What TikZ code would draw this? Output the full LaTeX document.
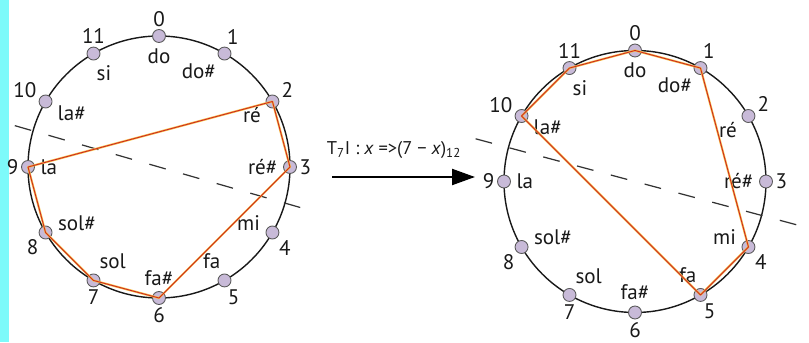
\documentclass[tikz,border=0pt]{standalone}
\usepackage{fontspec}
\setmainfont{PT Sans}
\usetikzlibrary{arrows.meta,calc,positioning}
\definecolor{scancyan}{RGB}{125,250,250}
\definecolor{pclilac}{RGB}{200,186,216}
\definecolor{hexorange}{RGB}{245,190,70}
\definecolor{hexred}{RGB}{205,40,35}

\begin{document}
\begin{tikzpicture}[x=0.02cm,y=0.02cm,
        pc/.style={circle, draw=black!65, fill=pclilac, line width=0.5pt, minimum size=0.26cm, inner sep=0pt},
        numlbl/.style={font=\fontsize{12}{14}\selectfont, text=black!90, inner sep=0.5pt, label distance=0.8pt},
        namelbl/.style={font=\fontsize{12}{14}\selectfont, text=black!90, inner sep=0.5pt, label distance=2.5pt},
        clock/.style={draw=black!90, line width=0.8pt},
        axis/.style={draw=black!80, line width=0.7pt, dash pattern=on 0.34cm off 0.36cm},
        hexline/.style={line join=round, line cap=round}]
    \useasboundingbox (0,0) rectangle (809,342);
    \fill[scancyan] (0,0) rectangle (9,342);

    \coordinate (Lc) at (159,175);
    \coordinate (Rc) at (635,160.5);

    % the two clocks
    \draw[clock] (Lc) circle [radius=131];
    \draw[clock] (Rc) circle [radius=131];

    % axis of the inversion
    \draw[axis] ($(Lc)+(164:150)$) -- ($(Lc)+(-16:160)$);
    \draw[axis] ($(Rc)+(165:165)$) -- ($(Rc)+(-15:180)$);

    % pitch classes
    \foreach \k/\nm/\na/\ma in {0/do/90/-90, 1/do\#/80/-130, 2/ré/20/-155, 3/ré\#/0/180,
            4/mi/-50/175, 5/fa/-75/105, 6/fa\#/-90/90, 7/sol/-90/65,
            8/sol\#/-135/5, 9/la/180/0, 10/la\#/165/-15, 11/si/90/-80} {
        \node[pc, label={[numlbl]\na:\k}, label={[namelbl]\ma:\nm}] (L\k) at ($(Lc)+({90-30*\k}:131)$) {};
        \node[pc, label={[numlbl]\na:\k}, label={[namelbl]\ma:\nm}] (R\k) at ($(Rc)+({90-30*\k}:131)$) {};
    }

    % hexachords
    \draw[hexline, hexorange, line width=1.2pt] (L2.center) -- (L3.center) -- (L6.center) -- (L7.center) -- (L8.center) -- (L9.center) -- cycle;
    \draw[hexline, hexred, line width=0.5pt] (L2.center) -- (L3.center) -- (L6.center) -- (L7.center) -- (L8.center) -- (L9.center) -- cycle;
    \draw[hexline, hexorange, line width=1.2pt] (R0.center) -- (R1.center) -- (R4.center) -- (R5.center) -- (R10.center) -- (R11.center) -- cycle;
    \draw[hexline, hexred, line width=0.5pt] (R0.center) -- (R1.center) -- (R4.center) -- (R5.center) -- (R10.center) -- (R11.center) -- cycle;

    % the operation
    \coordinate (opS) at (332,165);
    \coordinate (opE) at (475,165);
    \draw[line width=1.2pt, -{Triangle[length=0.46cm,width=0.32cm]}] (opS) -- (opE);
    \node[font=\fontsize{10.5}{13}\selectfont, text=black!90] (op) at (394,192) {T\textsubscript{7}I : \textit{x} =>(7 − \textit{x})\textsubscript{12}};
\end{tikzpicture}
\end{document}
